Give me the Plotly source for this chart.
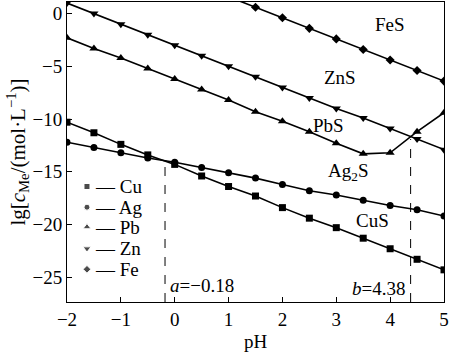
import plotly.graph_objects as go

pH = [-2, -1.5, -1, -0.5, 0, 0.5, 1, 1.5, 2, 2.5, 3, 3.5, 4, 4.5, 5]
cu = [-10.3, -11.3, -12.4, -13.4, -14.3, -15.4, -16.4, -17.3, -18.4, -19.4, -20.3, -21.3, -22.3, -23.3, -24.3]
ag = [-12.2, -12.7, -13.2, -13.7, -14.1, -14.6, -15.1, -15.6, -16.2, -16.8, -17.2, -17.7, -18.2, -18.6, -19.2]
pb = [-2.3, -3.3, -4.2, -5.2, -6.2, -7.2, -8.2, -9.3, -10.2, -11.2, -12.3, -13.3, -13.2, -11.2, -9.4]
zn = [1.0, 0.0, -1.0, -2.0, -3.0, -4.0, -5.0, -6.0, -7.0, -8.0, -9.0, -9.9, -10.9, -11.9, -12.9]
pH_fe = [1, 1.5, 2, 2.5, 3, 3.5, 4, 4.5, 5]
fe = [1.6, 0.6, -0.4, -1.4, -2.4, -3.4, -4.4, -5.4, -6.4]

names = ["Cu", "Ag", "Pb", "Zn", "Fe"]
symbols = ["square", "circle", "triangle-up", "triangle-down", "diamond"]
sizes = [7, 7, 8, 8, 7]
leg_sizes = [6, 6, 7, 7, 6]
xs_all = [pH, pH, pH, pH, pH_fe]
ys_all = [cu, ag, pb, zn, fe]

region_labels = ["FeS", "ZnS", "PbS", "Ag<sub>2</sub>S", "CuS"]
region_x = [4.0, 3.07, 2.86, 3.22, 3.68]
region_y = [-1.0, -6.1, -10.6, -15.0, -19.6]

a_val = -0.18
b_val = 4.38
a_top = -14.1
b_top = -11.9

# legend key layout (fractions of the plot area)
leg_mx = 0.053
leg_tx = 0.070
leg_y = [0.385, 0.316, 0.250, 0.178, 0.109]

FONT = "Liberation Serif, Times New Roman, serif"
FS = 19
fig = go.Figure()

for xs, ys, sym, sz in zip(xs_all, ys_all, symbols, sizes):
    fig.add_trace(go.Scatter(
        x=xs, y=ys, mode="lines+markers", showlegend=False,
        line=dict(color="black", width=1.6),
        marker=dict(symbol=sym, size=sz, color="black"),
    ))

# legend keys drawn on a hidden overlay axis spanning the plot area
fig.add_trace(go.Scatter(
    x=[leg_mx] * len(names), y=leg_y, mode="markers", showlegend=False,
    xaxis="x2", yaxis="y2", hoverinfo="skip",
    marker=dict(symbol=symbols, size=leg_sizes, color="black"),
))
for n, yy in zip(names, leg_y):
    fig.add_annotation(x=leg_tx, y=yy, xref="x2", yref="y2", text="— " + n,
                       showarrow=False, xanchor="left",
                       font=dict(family=FONT, size=FS, color="black"))

fig.add_trace(go.Scatter(x=[a_val, a_val], y=[-27.35, a_top], mode="lines", showlegend=False,
                         line=dict(color="black", width=1, dash="dash")))
fig.add_trace(go.Scatter(x=[b_val, b_val], y=[-27.35, b_top], mode="lines", showlegend=False,
                         line=dict(color="black", width=1, dash="dash")))

for t, x, y in zip(region_labels, region_x, region_y):
    fig.add_annotation(x=x, y=y, text=t, showarrow=False,
                       font=dict(family=FONT, size=FS, color="black"))

fig.add_annotation(x=-0.12, y=-25.8, text="<i>a</i>=−0.18", showarrow=False, xanchor="left",
                   font=dict(family=FONT, size=FS, color="black"))
fig.add_annotation(x=4.32, y=-26.1, text="<i>b</i>=4.38", showarrow=False, xanchor="right",
                   font=dict(family=FONT, size=FS, color="black"))

fig.update_layout(
    width=450, height=352,
    margin=dict(l=67, r=5, t=1, b=47),
    paper_bgcolor="white", plot_bgcolor="white",
    font=dict(family=FONT, size=FS, color="black"),
    showlegend=False,
    xaxis2=dict(range=[0, 1], overlaying="x", visible=False),
    yaxis2=dict(range=[0, 1], overlaying="y", visible=False),
    xaxis=dict(range=[-2, 5], dtick=1, ticks="inside", ticklen=5, tickcolor="black",
               showline=True, linecolor="black", linewidth=1, mirror=True,
               showgrid=False, zeroline=False,
               title=dict(text="pH", standoff=8, font=dict(family=FONT, size=FS))),
    yaxis=dict(range=[-27.35, 1.1], dtick=5, ticks="inside", ticklen=5, tickcolor="black",
               showline=True, linecolor="black", linewidth=1, mirror=True,
               showgrid=False, zeroline=False,
               title=dict(text="lg[<i>c</i><sub>Me</sub>/(mol·L<sup>−1</sup>)]", standoff=1,
                          font=dict(family=FONT, size=21))),
)

fig.write_html("out.html")
